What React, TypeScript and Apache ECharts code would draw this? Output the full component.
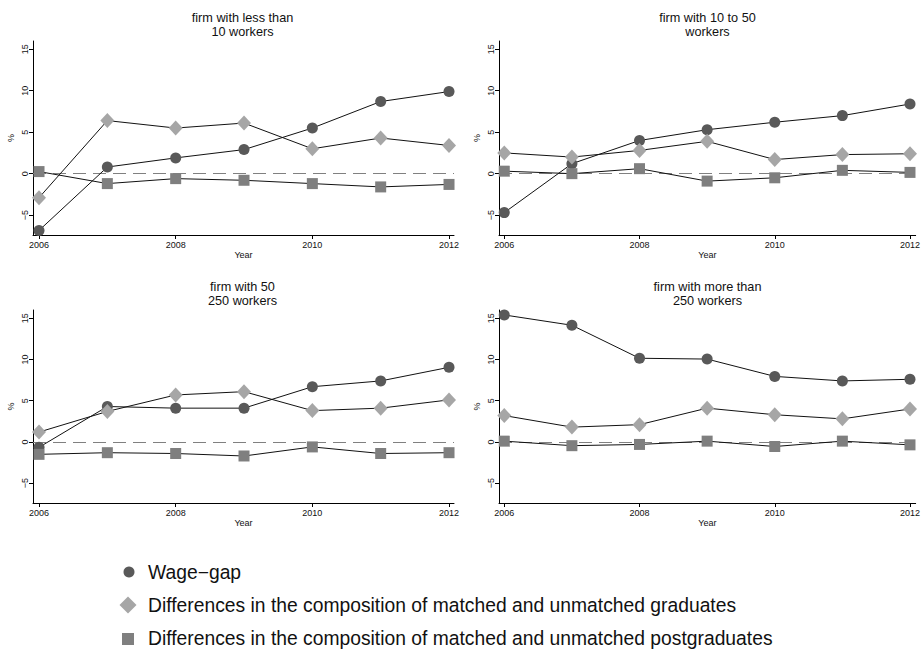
import React, { useEffect, useRef } from "react";
import * as echarts from "echarts";

const years = [2006, 2007, 2008, 2009, 2010, 2011, 2012];
const xTicks = [2006, 2008, 2010, 2012];
const yTicks = [-5, 0, 5, 10, 15];

const panelTitles = [
  "firm with less than\n10 workers",
  "firm with 10 to 50\nworkers",
  "firm with 50\n250 workers",
  "firm with more than\n250 workers",
];

const wageGap = [
  [-6.85, 0.8, 1.9, 2.9, 5.5, 8.7, 9.9],
  [-4.7, 1.2, 4.0, 5.3, 6.2, 7.0, 8.4],
  [-0.65, 4.3, 4.1, 4.1, 6.7, 7.4, 9.05],
  [15.4, 14.15, 10.15, 10.05, 7.95, 7.4, 7.6],
];
const gradDiff = [
  [-2.9, 6.4, 5.5, 6.1, 3.0, 4.3, 3.4],
  [2.5, 2.0, 2.8, 3.9, 1.7, 2.3, 2.4],
  [1.2, 3.7, 5.7, 6.1, 3.8, 4.1, 5.1],
  [3.2, 1.8, 2.1, 4.1, 3.3, 2.8, 4.0],
];
const postDiff = [
  [0.25, -1.2, -0.6, -0.8, -1.2, -1.6, -1.3],
  [0.3, 0.0, 0.6, -0.9, -0.5, 0.4, 0.15],
  [-1.5, -1.3, -1.4, -1.7, -0.6, -1.4, -1.3],
  [0.1, -0.45, -0.3, 0.1, -0.55, 0.1, -0.35],
];

const legendLabels = [
  "Wage\u2212gap",
  "Differences in the composition of matched and unmatched graduates",
  "Differences in the composition of matched and unmatched postgraduates",
];

const FONT = "'Liberation Sans', Arial, Helvetica, sans-serif";
const C_WAGE = "#595959";
const C_GRAD = "#a6a6a6";
const C_POST = "#7f7f7f";

const grids = [
  { left: 33, top: 41, width: 421, height: 194 },
  { left: 499, top: 41, width: 419, height: 194 },
  { left: 33, top: 310, width: 421, height: 193 },
  { left: 499, top: 310, width: 419, height: 193 },
];
const xRanges = [
  [2005.912, 2012.073],
  [2005.922, 2012.084],
  [2005.912, 2012.073],
  [2005.922, 2012.084],
];

export default function App() {
  const ref = useRef<HTMLDivElement>(null);
  useEffect(() => {
    if (!ref.current) return;
    const chart = echarts.init(ref.current, null, { renderer: "svg" });

    const series: any[] = [];
    const sets = [
      { data: wageGap, symbol: "circle", size: 11, color: C_WAGE, name: legendLabels[0] },
      { data: gradDiff, symbol: "diamond", size: [14, 15], color: C_GRAD, name: legendLabels[1] },
      { data: postDiff, symbol: "rect", size: 11, color: C_POST, name: legendLabels[2] },
    ];
    for (let p = 0; p < 4; p++) {
      sets.forEach((s, si) => {
        series.push({
          type: "line",
          name: s.name,
          xAxisIndex: p,
          yAxisIndex: p,
          data: years.map((y, i) => [y, s.data[p][i]]),
          symbol: s.symbol,
          symbolSize: s.size,
          showAllSymbol: true,
          lineStyle: { color: "#111", width: 1 },
          itemStyle: { color: s.color, borderWidth: 0 },
          z: 3 + si,
          silent: true,
          markLine:
            si === 0
              ? {
                  silent: true,
                  symbol: "none",
                  label: { show: false },
                  lineStyle: { color: "#808080", type: [13, 7], width: 1.2 },
                  data: [{ yAxis: 0 }],
                  z: 1,
                }
              : undefined,
        });
      });
    }

    const option: any = {
      animation: false,
      backgroundColor: "#fff",
      textStyle: { fontFamily: FONT },
      title: panelTitles.map((t, p) => ({
        text: t,
        left: grids[p].left + grids[p].width / 2 - 1,
        top: grids[p].top - 29.5,
        textAlign: "center",
        textStyle: {
          fontFamily: FONT,
          fontSize: 12.7,
          fontWeight: "normal",
          color: "#111",
          lineHeight: 13.4,
        },
        padding: 0,
      })),
      grid: grids.map((g) => ({ ...g, containLabel: false })),
      xAxis: grids.map((g, p) => ({
        type: "value",
        gridIndex: p,
        min: xRanges[p][0],
        max: xRanges[p][1],
        name: "Year",
        nameLocation: "middle",
        nameGap: 15,
        nameTextStyle: { fontFamily: FONT, fontSize: 9, color: "#111" },
        axisLine: { onZero: false, lineStyle: { color: "#000", width: 1 } },
        axisTick: { show: true, length: 4, customValues: xTicks, lineStyle: { color: "#000" } },
        axisLabel: {
          customValues: xTicks,
          fontFamily: FONT,
          fontSize: 9,
          color: "#111",
          margin: 5,
          formatter: (v: number) => String(v),
        },
        splitLine: { show: false },
      })),
      yAxis: grids.map((g, p) => ({
        type: "value",
        gridIndex: p,
        min: -7.4,
        max: 16,
        name: "%",
        nameLocation: "middle",
        nameGap: 18,
        nameRotate: 90,
        nameTextStyle: { fontFamily: FONT, fontSize: 9, color: "#111" },
        axisLine: { show: true, onZero: false, lineStyle: { color: "#000", width: 1 } },
        axisTick: { show: true, length: 4, customValues: yTicks, lineStyle: { color: "#000" } },
        axisLabel: {
          customValues: yTicks,
          rotate: 90,
          fontFamily: FONT,
          fontSize: 9,
          color: "#111",
          margin: 4,
          formatter: (v: number) => (v < 0 ? "\u2212" + Math.abs(v) : String(v)),
        },
        splitLine: { show: false },
      })),
      series,
      graphic: [
        {
          type: "circle",
          shape: { cx: 129, cy: 572, r: 5.5 },
          style: { fill: C_WAGE },
        },
        {
          type: "polygon",
          shape: {
            points: [
              [128, 596.5],
              [136.5, 605],
              [128, 613.5],
              [119.5, 605],
            ],
          },
          style: { fill: C_GRAD },
        },
        {
          type: "rect",
          shape: { x: 122, y: 633, width: 12, height: 12 },
          style: { fill: C_POST },
        },
        ...legendLabels.map((t, i) => ({
          type: "text",
          x: 148,
          y: [572, 605, 638][i],
          style: {
            text: t,
            fontFamily: FONT,
            fontSize: 19.3,
            fill: "#111",
            textVerticalAlign: "middle",
            verticalAlign: "middle",
          },
        })),
      ],
    };
    chart.setOption(option);
    return () => chart.dispose();
  }, []);
  return (
    <div
      ref={ref}
      style={{ position: "fixed", left: 0, top: 0, width: 923, height: 652, background: "#fff" }}
    />
  );
}
